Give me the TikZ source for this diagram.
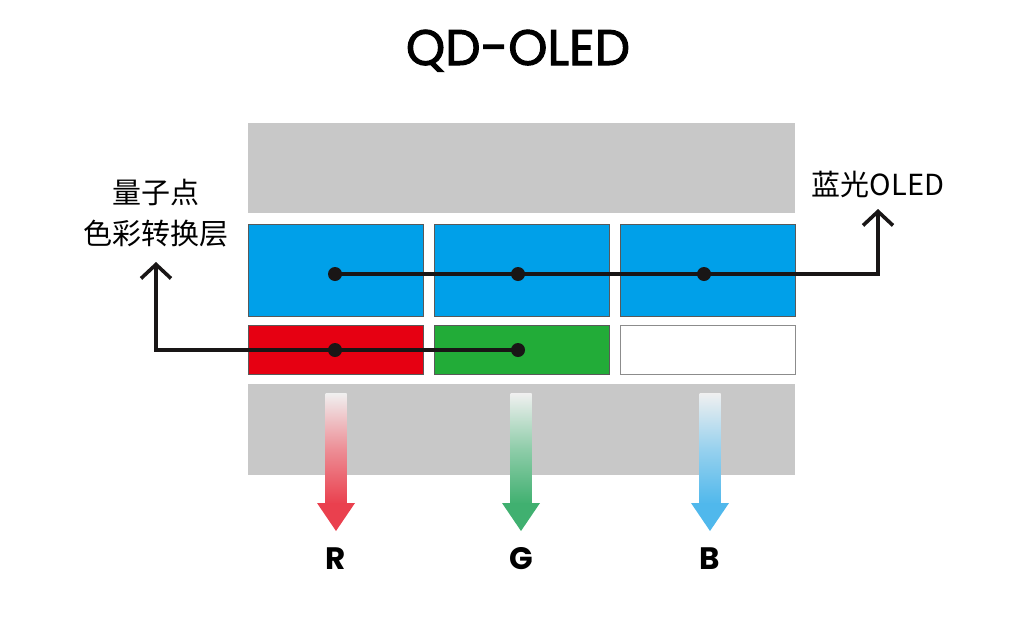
\documentclass[tikz,border=0pt]{standalone}
\usepackage{fontspec}
\setmainfont{Noto Sans CJK SC}
\newfontfamily\titlefont{Poppins}
\newfontfamily\headfont{Poppins}[FakeBold=2]
\usetikzlibrary{arrows.meta}
\definecolor{lgray}{RGB}{200,200,200}
\definecolor{cblue}{RGB}{0,160,233}
\definecolor{cred}{RGB}{230,0,18}
\definecolor{cgreen}{RGB}{34,172,56}
\definecolor{ared}{RGB}{234,64,78}
\definecolor{agreen}{RGB}{64,176,112}
\definecolor{ablue}{RGB}{80,184,236}
\definecolor{atop}{RGB}{240,240,240}
\definecolor{ink}{RGB}{25,22,22}
\begin{document}
\begin{tikzpicture}[x=1pt,y=-1pt,
  layer/.style={fill=lgray,draw=none,inner sep=0pt,minimum width=547pt},
  cell/.style={draw=black!65,line width=0.8pt,inner sep=0pt,minimum width=175pt},
  wire/.style={line width=3.6pt,ink},
  dotm/.style={circle,fill=ink,inner sep=0pt,minimum width=13pt,minimum height=14pt},
  lbl/.style={font=\fontsize{29}{41}\selectfont,align=center,inner sep=0pt},
  rgb/.style={font=\titlefont\bfseries\fontsize{31}{31}\selectfont,anchor=base,inner sep=0pt},
  tip/.style={-{Straight Barb[length=14pt,width=30pt]}}
]
\useasboundingbox (0,0) rectangle (1024,616);
% title
\node[anchor=base,inner sep=0pt,font=\headfont\fontsize{50}{50}\selectfont] (title) at (518,65) {QD-OLED};
% layers
\node[layer,minimum height=90pt] (top) at (521.5,168) {};
\node[layer,minimum height=91pt] (bot) at (521.5,429.5) {};
\node[cell,fill=cblue,minimum height=92pt] (b1) at (335.5,270.7) {};
\node[cell,fill=cblue,minimum height=92pt] (b2) at (522,270.7) {};
\node[cell,fill=cblue,minimum height=92pt] (b3) at (707.5,270.7) {};
\node[cell,fill=cred,minimum height=49pt] (r1) at (335.5,350.2) {};
\node[cell,fill=cgreen,minimum height=49pt] (g1) at (522,350.2) {};
\node[cell,fill=white,draw=black!45,minimum height=49pt] (w1) at (707.5,350.2) {};
% light arrows
\foreach \nm/\x/\c in {ar/336/ared,ag/521/agreen,ab/710/ablue}{
  \shade[top color=atop,bottom color=\c,middle color=\c!55!atop] (\x-10.5,393) rectangle (\x+10.5,504);
  \fill[\c] (\x-19,503) -- (\x+19,503) -- (\x,531) -- cycle;
  \coordinate (\nm) at (\x,531);
}
\node[rgb] (R) at (336,569) {R};
\node[rgb] (G) at (521,569) {G};
\node[rgb] (B) at (710,569) {B};
% dots and wires
\coordinate (d1) at (335,274);
\coordinate (d2) at (518,274);
\coordinate (d3) at (704,274);
\coordinate (d4) at (335,350);
\coordinate (d5) at (518,350);
\coordinate (cR) at (878,274);
\coordinate (cL) at (156,350);
\node[lbl] (blueled) at (878,184) {蓝光OLED};
\node[lbl] (qd) at (156,213.5) {量子点\\色彩转换层};
\coordinate (tR) at (878,209);
\coordinate (tL) at (156,262);
\draw[wire,tip,line join=miter] (d1) -- (cR) -- (tR);
\draw[wire,tip,line join=miter] (d5) -- (cL) -- (tL);
\foreach \d in {d1,d2,d3,d4,d5}{\node[dotm] at (\d) {};}
\end{tikzpicture}
\end{document}
